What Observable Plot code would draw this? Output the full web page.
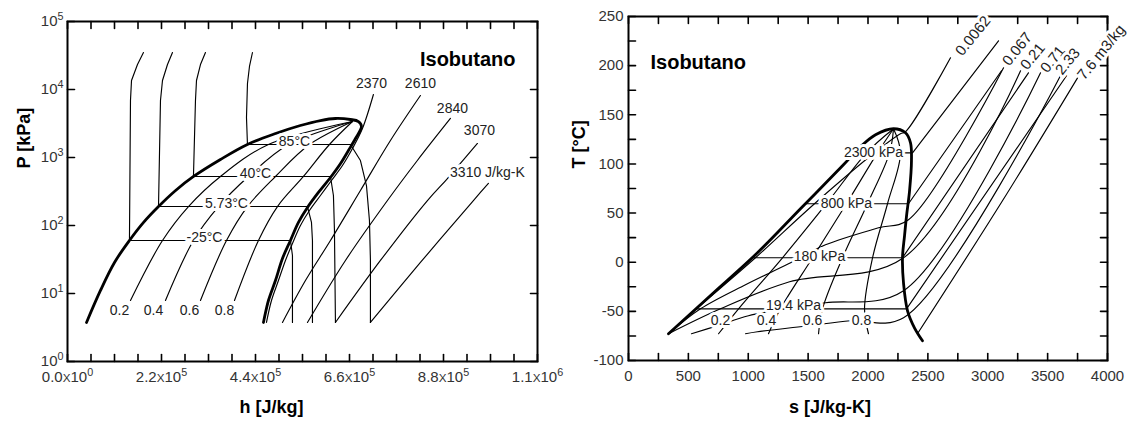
<!DOCTYPE html>
<html><head><meta charset="utf-8">
<script src="https://cdn.jsdelivr.net/npm/d3@7"></script>
<script src="https://cdn.jsdelivr.net/npm/@observablehq/plot@0.6"></script>
<style>
body{margin:0;background:#fff;}
#wrap{display:flex;width:1132px;height:430px;overflow:hidden;background:#fff;}
#wrap svg{display:block;flex:none;}
</style></head><body><div id="wrap"></div>
<script>
// ---------- LEFT: P-h diagram (h in J/kg, P in kPa) ----------
const domePH = [[44500,3.75],[77200,11.1],[110000,28.6],[145000,60.2],[178000,111],[213000,190],[253000,327],[295000,526],[358000,935],[421000,1553],[487000,2254],[545000,2956],[592000,3500],[627000,3748],[662000,3622],[681000,3383],[688000,2857],[674000,1901],[657500,1268],[639000,816],[615400,508],[587300,306],[561600,184],[540500,111],[521800,60.2],[503100,32.7],[486700,15.5],[470300,7.89],[458600,3.75]];
const isoTm25 = [[177800,35000],[163800,23300],[149800,13560],[147400,6890],[145000,60.2],[521800,60.2],[526500,36.2],[526500,3.75]];
const isoT573 = [[245700,35000],[234000,23300],[222300,13560],[217600,6890],[213000,190],[561600,190],[571000,111],[573300,60.2],[573300,3.75]];
const isoT40 = [[322900,35000],[311200,23300],[301900,13560],[299500,6890],[294800,526],[615400,526],[622400,276],[624800,84.4],[627100,3.75]];
const isoT85 = [[432900,35000],[425900,21800],[421200,12250],[418900,3873],[421200,1553],[662200,1553],[685600,903],[699700,387],[706700,118.5],[709000,30.6],[709000,3.75]];
const qPH02 = [[147400,7.89],[222300,60.2],[283100,190],[358000,526],[470300,1553],[666900,3383]];
const qPH04 = [[229300,7.89],[294800,60.2],[353300,190],[423500,526],[517100,1553],[666900,3383]];
const qPH06 = [[311200,7.89],[372100,60.2],[421200,190],[486700,526],[566300,1553],[666900,3383]];
const qPH08 = [[390800,7.89],[446900,60.2],[491400,190],[552200,526],[613100,1553],[666900,3383]];
const s2370 = [[716000,8440],[690300,2668],[666900,1356],[643500,762],[617800,459],[592000,276],[566300,166],[545200,100],[526500,54.4],[510100,30.6],[493700,15.5],[477400,7.89],[465700,3.75]];
const s2610 = [[826000,8160],[755800,1778],[685600,327],[615400,60.2],[556900,15.5],[503100,3.75]];
const s2840 = [[896200,3748],[818800,903],[748800,233],[650500,30.6],[561600,3.75]];
const s3070 = [[959400,1607],[889200,491],[842400,233],[732400,30.6],[627100,3.75]];
const s3310 = [[985100,415],[950000,233],[826000,28.6],[709000,3.75]];

const qNames = ["0.2","0.4","0.6","0.8"];
const qLabelH = [121700,201200,285500,367400];
const qLabelP = 5.62;
const tNames = ["-25°C","5.73°C","40°C","85°C"];
const tLabelH = [320600,372100,439900,531200];
const tLabelP = [60.2,190,526,1553];
const sNames = ["2370","2610","2840","3070","3310 J/kg-K"];
const sLabelH = [711400,826000,900900,964100,982800];
const sLabelP = [12250,12250,5260,2495,602];

const hTicks = d3.range(0, 21).map(i => i * 55000);
const hLabels = [0, 220000, 440000, 660000, 880000, 1100000];
const pTicks = [1, 10, 100, 1000, 10000, 100000];

// ---------- RIGHT: T-s diagram (s in J/kg-K, T in °C) ----------
const domeTS = [[334,-72.8],[701,-32.1],[1077,9.6],[1436,54.4],[1795,99.1],[1937,117.4],[2063,129.7],[2213,135.8],[2313,131.7],[2355,121.5],[2363,103.2],[2347,72.7],[2322,47.3],[2305,26.9],[2288,4.5],[2297,-21.9],[2330,-49.4],[2388,-66.7],[2455,-79.9]];
const qTS02 = [[752,-72.8],[919,-47.4],[1286,4.5],[1653,59.5],[1988,111.3],[2213,135.8]];
const qTS04 = [[1169,-72.8],[1269,-47.4],[1537,4.5],[1820,59.5],[2079,111.3],[2213,135.8]];
const qTS06 = [[1587,-72.8],[1620,-47.4],[1787,4.5],[1996,59.5],[2180,111.3],[2213,135.8]];
const qTS08 = [[2004,-72.8],[1971,-47.4],[2038,4.5],[2163,59.5],[2271,111.3],[2213,135.8]];
const p2300 = [[1887,111.3],[2372,111.3],[2731,168.3],[3090,225.3]];
const p800 = [[1478,59.5],[2338,59.5],[3115,194.8]];
const p180 = [[1031,4.5],[2288,4.5],[3340,192.7]];
const p194 = [[560,-47.4],[2322,-47.4],[3658,189.7]];
const v0062 = [[334,-72.8],[568,-47.4],[1060,4.5],[1553,59.5],[2054,111.3],[2271,130.7],[2313,132.7],[2689,208.0]];
const v067 = [[334,-72.8],[601,-47.4],[977,-22.9],[1336,-1.6],[1645,17.7],[2088,35.0],[2338,43.2],[3132,197.8]];
const v021 = [[334,-72.8],[768,-47.4],[1345,-19.9],[2297,4.5],[3274,194.8]];
const v071 = [[526,-72.8],[743,-64.6],[1002,-54.5],[1303,-47.4],[1645,-41.3],[2297,-29.0],[3441,192.7]];
const v233 = [[977,-72.8],[1077,-70.8],[1503,-64.6],[1854,-59.6],[2297,-56.5],[3607,189.7]];
const v76 = [[2413,-72.8],[3123,62.5],[3750,187.6]];

const pNames = ["2300 kPa","800 kPa","180 kPa","19.4 kPa"];
const pLabelS = [2046,1820,1595,1378];
const pLabelT = [111.3,59.5,5.5,-44.3];
const qLabelS = [768,1152,1537,1946];
const qLabelT = -59.6;
const vNames = ["0.0062","0.067","0.21","0.71","2.33","7.6 m3/kg"];
const vLabelS = [2756,3148,3299,3466,3591,3775];
const vLabelT = [212.1,201.9,197.8,194.8,192.7,187.6];

const sTicks = d3.range(0, 4001, 250);
const sLabels = d3.range(0, 4001, 500);
const tTicks = d3.range(-100, 251, 25);
const tLabels = d3.range(-100, 251, 50);

// ---------- helpers ----------
const LF = "'Liberation Sans', Arial, Helvetica, sans-serif";
const fmtH = v => {
  if (v === 0) return "0.0x10^0";
  const e = Math.floor(Math.log10(v) + 1e-9);
  return (v / 10 ** e).toFixed(1) + "x10^" + e;
};
const fmtP = v => "10^" + Math.round(Math.log10(v));
const lines = (arrs, opts) => arrs.map(a => Plot.line(a, {x: d => d[0], y: d => d[1], stroke: "black", strokeWidth: 1.15, ...opts}));
const table = (names, xs, ys) => names.map((t, i) => ({t, x: xs[i], y: Array.isArray(ys) ? ys[i] : ys}));
const halo = {stroke: "white", strokeWidth: 6, fill: "#222", fontSize: 14, fontFamily: LF};

// inward tick segments (two points each) on all four frame sides, in data units
function tickSegments(xt, yt, [x0, x1], [y0, y1], lenX, lenY, ylog) {
  const segs = [];
  const up = (y, k) => ylog ? y * Math.pow(lenY, k) : y + k * lenY;
  xt.forEach((v, i) => {
    segs.push({id: "b" + i, x: v, y: y0}, {id: "b" + i, x: v, y: up(y0, 1)});
    segs.push({id: "t" + i, x: v, y: y1}, {id: "t" + i, x: v, y: up(y1, -1)});
  });
  yt.forEach((v, i) => {
    segs.push({id: "l" + i, x: x0, y: v}, {id: "l" + i, x: x0 + lenX, y: v});
    segs.push({id: "r" + i, x: x1, y: v}, {id: "r" + i, x: x1 - lenX, y: v});
  });
  return segs;
}
// 7 px expressed in data units of each axis
const leftTicks = tickSegments(hTicks, pTicks, [0, 1.1e6], [1, 1e5], 7 * 1.1e6 / 470, Math.pow(10, 7 / 68), true);
const rightTicks = tickSegments(sTicks, tTicks, [0, 4000], [-100, 250], 7 * 4000 / 479, 7 * 350 / 344, false);

const left = Plot.plot({
  width: 566, height: 430,
  marginLeft: 67, marginRight: 29, marginTop: 21, marginBottom: 69,
  style: {fontFamily: LF, fontSize: "15px", color: "#333", background: "white", overflow: "visible"},
  x: {domain: [0, 1.1e6]},
  y: {type: "log", domain: [1, 1e5]},
  marks: [
    ...lines([isoTm25, isoT573, isoT40, isoT85], {curve: "linear"}),
    ...lines([qPH02, qPH04, qPH06, qPH08], {curve: "catmull-rom"}),
    ...lines([s2370, s2610, s2840, s3070, s3310], {curve: "catmull-rom"}),
    Plot.line(domePH, {x: d => d[0], y: d => d[1], stroke: "black", strokeWidth: 2.8, curve: "catmull-rom"}),
    Plot.text(table(tNames, tLabelH, tLabelP), {x: "x", y: "y", text: "t", dy: -3, ...halo}),
    Plot.text(table(qNames, qLabelH, qLabelP), {x: "x", y: "y", text: "t", ...halo}),
    Plot.text(table(sNames, sLabelH, sLabelP), {x: "x", y: "y", text: "t", ...halo}),
    Plot.line(leftTicks, {x: "x", y: "y", z: "id", stroke: "black", strokeWidth: 1.6}),
    Plot.frame({stroke: "black", strokeWidth: 2}),
    Plot.axisX({ticks: hLabels, anchor: "bottom", tickSize: 0, tickPadding: 10, tickFormat: fmtH, label: null}),
    Plot.axisY({ticks: pTicks, anchor: "left", tickSize: 0, tickPadding: 4, tickFormat: fmtP, label: null}),
    Plot.text(["h [J/kg]"], {text: d => d, frameAnchor: "bottom", dx: -31, dy: 51, fontWeight: "bold", fontSize: 18, fill: "black"}),
    Plot.text(["P [kPa]"], {text: d => d, frameAnchor: "left", rotate: -90, dx: -43, dy: -23, fontWeight: "bold", fontSize: 18, fill: "black"}),
    Plot.text(["Isobutano"], {text: d => d, frameAnchor: "top-right", textAnchor: "end", dx: -22, dy: 30, fontWeight: "bold", fontSize: 20, fill: "black"})
  ]
});

const right = Plot.plot({
  width: 566, height: 430,
  marginLeft: 62, marginRight: 25, marginTop: 16, marginBottom: 70,
  style: {fontFamily: LF, fontSize: "15px", color: "#333", background: "white", overflow: "visible"},
  x: {domain: [0, 4000]},
  y: {domain: [-100, 250]},
  marks: [
    ...lines([qTS02, qTS04, qTS06, qTS08], {curve: "catmull-rom"}),
    ...lines([p2300, p800, p180, p194], {curve: "linear"}),
    ...lines([v0062, v067, v021, v071, v233, v76], {curve: "catmull-rom"}),
    Plot.line(domeTS, {x: d => d[0], y: d => d[1], stroke: "black", strokeWidth: 2.8, curve: "catmull-rom"}),
    Plot.text(table(pNames, pLabelS, pLabelT), {x: "x", y: "y", text: "t", ...halo}),
    Plot.text(table(qNames, qLabelS, qLabelT), {x: "x", y: "y", text: "t", ...halo}),
    Plot.line(rightTicks, {x: "x", y: "y", z: "id", stroke: "black", strokeWidth: 1.6}),
    Plot.frame({stroke: "black", strokeWidth: 2}),
    Plot.text(table(vNames, vLabelS, vLabelT), {x: "x", y: "y", text: "t", rotate: -51, textAnchor: "start", ...halo, fontSize: 15}),
    Plot.axisX({ticks: sLabels, anchor: "bottom", tickSize: 0, tickPadding: 10, tickFormat: d => String(d), label: null}),
    Plot.axisY({ticks: tLabels, anchor: "left", tickSize: 0, tickPadding: 5, tickFormat: d => String(d), label: null}),
    Plot.text(["s [J/kg-K]"], {text: d => d, frameAnchor: "bottom", dx: -38, dy: 52, fontWeight: "bold", fontSize: 18, fill: "black"}),
    Plot.text(["T [°C]"], {text: d => d, frameAnchor: "left", rotate: -90, dx: -49, dy: -20, fontWeight: "bold", fontSize: 18, fill: "black"}),
    Plot.text(["Isobutano"], {text: d => d, frameAnchor: "top-left", textAnchor: "start", dx: 22, dy: 38, fontWeight: "bold", fontSize: 20, fill: "black"})
  ]
});

// turn "2.2x10^5" tick texts into real superscripts
function supify(svg) {
  const ns = "http://www.w3.org/2000/svg";
  svg.querySelectorAll("text").forEach(t => {
    const s = t.textContent;
    if (!s.includes("^")) return;
    const [base, exp] = s.split("^");
    while (t.firstChild) t.removeChild(t.firstChild);
    const parts = base.split("x");
    if (parts.length === 2) {
      t.appendChild(document.createTextNode(parts[0]));
      const xs = document.createElementNS(ns, "tspan");
      xs.setAttribute("font-size", "0.78em");
      xs.textContent = "X";
      t.appendChild(xs);
      const rest = document.createElementNS(ns, "tspan");
      rest.textContent = parts[1];
      t.appendChild(rest);
    } else {
      t.appendChild(document.createTextNode(base));
    }
    const e = document.createElementNS(ns, "tspan");
    e.setAttribute("font-size", "0.72em");
    e.setAttribute("dy", "-0.55em");
    e.textContent = exp;
    t.appendChild(e);
  });
}
supify(left);

const wrap = document.getElementById("wrap");
wrap.appendChild(left);
wrap.appendChild(right);
</script>
</body></html>
